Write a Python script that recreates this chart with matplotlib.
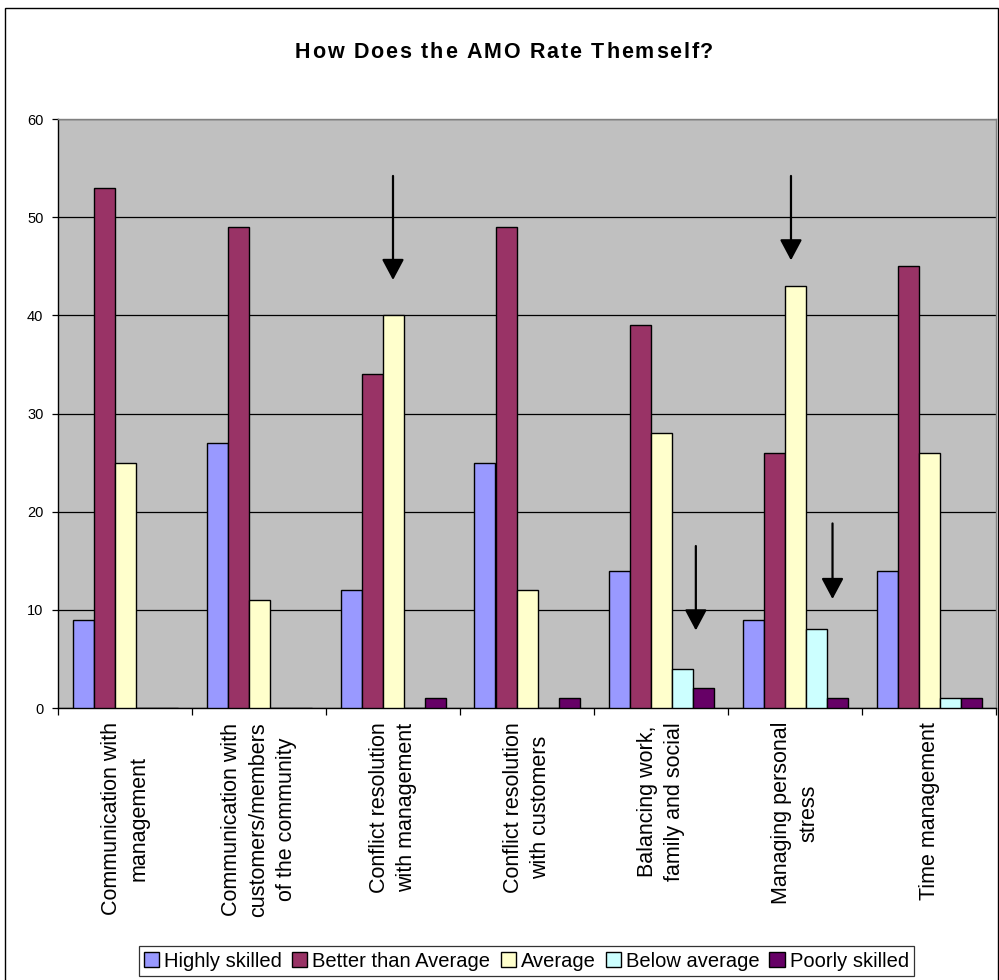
import matplotlib
matplotlib.use("Agg")
import matplotlib.pyplot as plt
import numpy as np
from matplotlib.patches import Rectangle

plt.rcParams['font.family'] = ['Liberation Sans', 'DejaVu Sans']

categories = [
    "Communication with\nmanagement",
    "Communication with\ncustomers/members\nof the community",
    "Conflict resolution\nwith management",
    "Conflict resolution\nwith customers",
    "Balancing work,\nfamily and social",
    "Managing personal\nstress",
    "Time management",
]
series_names = ["Highly skilled", "Better than Average", "Average",
                "Below average", "Poorly skilled"]
highly_skilled = [9, 27, 12, 25, 14, 9, 14]
better_than_average = [53, 49, 34, 49, 39, 26, 45]
average = [25, 11, 40, 12, 28, 43, 26]
below_average = [0, 0, 0, 0, 4, 8, 1]
poorly_skilled = [0, 0, 1, 1, 2, 1, 1]
series_values = [highly_skilled, better_than_average, average,
                 below_average, poorly_skilled]
colors = ["#9999FF", "#993366", "#FFFFCC", "#CCFFFF", "#660066"]

title = "How Does the AMO Rate Themself?"

# callout arrows: (x, y_tail, y_tip) in data units
arrows = [
    (2.00, 54.2, 43.6),
    (4.26, 16.5, 7.9),
    (4.97, 54.2, 45.6),
    (5.28, 18.8, 11.1),
]

W, H = 999, 980
fig = plt.figure(figsize=(W / 100, H / 100), dpi=100)
fig.patch.set_facecolor("white")

# outer chart border
fig.patches.append(Rectangle((5 / W, -0.02), 993 / W, 1 - 8 / H + 0.02,
                             transform=fig.transFigure, fill=False,
                             edgecolor="black", linewidth=1.0, clip_on=False))

ax = fig.add_axes([58 / W, 1 - 708 / H, 938 / W, (708 - 119) / H])
ax.set_facecolor("#C0C0C0")

x = np.arange(len(categories))
w = 21 / 134
for k, (name, vals, col) in enumerate(zip(series_names, series_values, colors)):
    ax.bar(x + (k - 2) * w, vals, width=w, color=col, edgecolor="black",
           linewidth=1.0, label=name, zorder=3)

ax.set_xlim(-0.5, len(categories) - 0.5)
ax.set_ylim(0, 60)
ax.set_yticks(np.arange(0, 61, 10))
ax.yaxis.grid(True, color="black", linewidth=0.9, zorder=1)
ax.set_axisbelow(True)
ax.tick_params(axis="y", length=4, width=0.9, pad=6.5, labelsize=10.5,
               direction="out")

ax.set_xticks(np.arange(-0.5, len(categories)), labels=[""] * (len(categories) + 1))
ax.set_xticks(x, labels=categories, minor=True)
ax.tick_params(axis="x", which="major", length=5, width=0.9, direction="out")
ax.tick_params(axis="x", which="minor", length=0, pad=10, labelsize=15.5)
for lbl in ax.get_xticklabels(minor=True):
    lbl.set_rotation(90)
    lbl.set_multialignment("center")
    lbl.set_linespacing(1.4)

for side in ("top", "right"):
    ax.spines[side].set_color("#808080")
    ax.spines[side].set_linewidth(1.0)
for side in ("left", "bottom"):
    ax.spines[side].set_color("black")
    ax.spines[side].set_linewidth(1.0)

for ax_x, y0, y1 in arrows:
    ax.annotate("", xy=(ax_x, y1), xytext=(ax_x, y0),
                arrowprops=dict(arrowstyle="-|>,head_length=0.75,head_width=0.4",
                                mutation_scale=17, color="black", lw=1.6,
                                shrinkA=0, shrinkB=0),
                zorder=5)


def spaced_text(s, cx, cy, spacing_px, **kw):
    """Draw a string centred at (cx, cy) pixels with extra letter spacing."""
    renderer = fig.canvas.get_renderer()
    widths = []
    for ch in s:
        t = fig.text(0, 0, ch if ch != " " else "\u00a0", **kw)
        widths.append(t.get_window_extent(renderer).width)
        t.remove()
    total = sum(widths) + spacing_px * (len(s) - 1)
    pos = cx - total / 2
    for ch, cw in zip(s, widths):
        if ch != " ":
            fig.text(pos / W, 1 - cy / H, ch, ha="left", va="center", **kw)
        pos += cw + spacing_px


spaced_text(title, 504, 53, 1.8, fontsize=15.5, fontweight="bold")

leg = fig.legend(loc="center", bbox_to_anchor=(526.5 / W, 19 / H), ncol=5,
                 fontsize=14.5, frameon=True, fancybox=False, edgecolor="black",
                 handlelength=0.75, handleheight=0.75, handletextpad=0.25,
                 columnspacing=0.5, borderpad=0.25, borderaxespad=0)
leg.get_frame().set_linewidth(0.9)

fig.savefig("out.png", dpi=100)
